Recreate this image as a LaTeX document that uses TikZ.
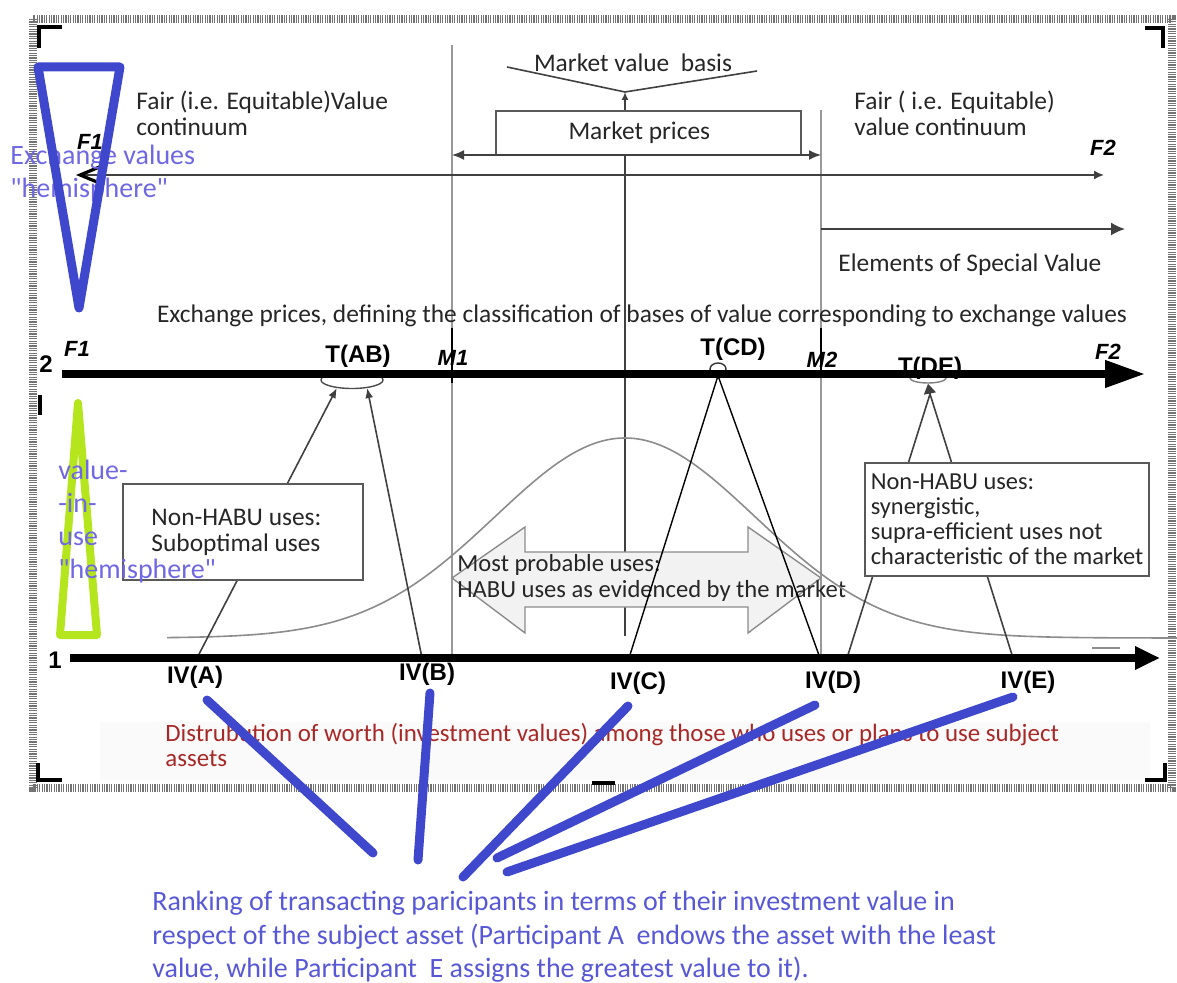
\documentclass[tikz,border=0pt]{standalone}
\usepackage{fontspec}
\setmainfont{Carlito}
\newfontfamily\hemifont{Carlito}[Ligatures=TeXOff]
\newfontfamily\arialfont{Liberation Sans}
\usetikzlibrary{arrows.meta,shapes.geometric}
\definecolor{penblue}{RGB}{63,72,204}
\definecolor{pengreen}{RGB}{181,230,29}
\definecolor{hemiviolet}{RGB}{112,104,226}
\definecolor{rankblue}{RGB}{88,88,214}
\definecolor{worthred}{RGB}{168,40,40}
\newcommand\txtsz{\fontsize{12.7}{13}\selectfont}
\newcommand\boxsz{\fontsize{12.2}{12.5}\selectfont}
\newcommand\hemisz{\hemifont\fontsize{14}{16.5}\selectfont}
\newcommand\ranksz{\fontsize{14}{16.75}\selectfont}
\newcommand\worthsz{\fontsize{12.45}{12.5}\selectfont}
\newcommand\ivsz{\arialfont\bfseries\fontsize{12}{13}\selectfont}
\newcommand\fsz{\arialfont\bfseries\itshape\fontsize{11}{12}\selectfont}
\begin{document}
\begin{tikzpicture}[x=0.5pt,y=-0.5pt,
  txt/.style={font=\txtsz,text=black!85,inner sep=0pt},
  ivlab/.style={font=\ivsz,inner sep=0pt},
  flab/.style={font=\fsz,inner sep=0pt},
  usebox/.style={draw=black!65,line width=0.8pt,fill=white,font=\txtsz,text=black!85,align=left,inner sep=0pt},
  hemi/.style={font=\hemisz,text=hemiviolet,align=left,inner sep=0pt,anchor=west},
  thinline/.style={black!75,line width=0.8pt},
  axis/.style={line width=3.6pt},
  mline/.style={black!40,line width=0.7pt},
  hatch/.style={draw=black!55,line width=4pt,dash pattern=on 0.6pt off 0.6pt},
  corner/.style={line width=1.6pt},
  pen/.style={penblue,line width=4.5pt,line cap=round,line join=round}]
\useasboundingbox (0,0) rectangle (1177,983);
% frame
\fill[black!2] (100,722) rectangle (1150,780);
\draw[hatch] (33,19) rectangle (1172,788);
\draw[corner] (39,48) -- (39,27) -- (62,27);
\draw[corner] (1145,28) -- (1163,28) -- (1163,48);
\draw[corner] (38,763) -- (38,780) -- (62,780);
\draw[corner] (1145,780) -- (1165,780) -- (1165,763);
\draw[corner] (592,783) -- (615,783);
\draw[corner] (40,395) -- (40,415);
% market boundaries
\draw[mline] (452,45) -- (452,658);
\draw[mline] (821,110) -- (821,658);
\draw[line width=0.8pt] (452,328) -- (452,383) (821,328) -- (821,378);
\draw[black!75,line width=1pt] (625,154) -- (625,636);
% fair value continuum
\node[txt,anchor=west,align=left] (fairleft) at (136,113) {Fair (i.e. Equitable)Value\\continuum};
\node[txt,anchor=west,align=left] (fairright) at (854,113) {Fair ( i.e. Equitable)\\value continuum};
\node[txt] (mvbasis) at (633,63) {Market value\ \ basis};
\coordinate (vleft) at (507,67);
\coordinate (vright) at (757,71);
\coordinate (vtip) at (625,92);
\draw[thinline] (vleft) -- (vtip) -- (vright);
\node[usebox,minimum width=152.5pt,minimum height=22pt,anchor=north west] (mprices) at (495,110) {Market prices\hspace*{9pt}};
\draw[thinline,-{Latex[length=4pt,width=3.5pt]}] (mprices.north -| vtip) -- (vtip);
\coordinate (mpl) at (452,155);
\coordinate (mpr) at (821,155);
\draw[thinline,{Latex[length=6pt,width=5pt]}-{Latex[length=6pt,width=5pt]}] (mpl) -- (mpr);
\coordinate (f1end) at (76,175);
\coordinate (f2end) at (1104,175);
\draw[thinline,{Straight Barb[length=12pt,width=10pt,line width=1.6pt,color=black]}-{Latex[length=5pt,width=4.5pt]}] (f1end) -- (f2end);
\node[flab] (f1top) at (90,142) {F1};
\node[flab] (f2top) at (1103,148) {F2};
\coordinate (spstart) at (821,229);
\coordinate (spend) at (1125,229);
\draw[thinline,-{Latex[length=7pt,width=6.5pt]}] (spstart) -- (spend);
\node[txt,anchor=west] (special) at (838,265) {Elements of Special Value};
\node[txt] (exprices) at (642,316) {Exchange prices, defining the classification of bases of value corresponding to exchange values};
% most probable uses
\draw[fill=black!5,draw=black!45,line width=0.7pt] (452,578) -- (525,527) -- (525,552) -- (748,552) -- (748,527) -- (821,578)
  -- (748,633) -- (748,607) -- (525,607) -- (525,633) -- cycle;
\node[txt,anchor=west,align=left,font=\fontsize{12.3}{13}\selectfont] (habu) at (457,578) {Most probable uses:\\HABU uses as evidenced by the market};
\draw[black!45,line width=0.8pt] plot[domain=167:1177,samples=120,smooth] (\x,{638-200*exp(-((\x-625)/130)*((\x-625)/130)/2)});
\draw[black!45,line width=1pt] (1092,648) -- (1120,648);
% transactions
\node[draw=black!70,ellipse,line width=0.7pt,minimum width=31pt,minimum height=8.5pt,inner sep=0pt] (tab) at (352,380) {};
\node[draw=black!80,ellipse,line width=0.7pt,minimum width=8pt,minimum height=6pt,inner sep=0pt] (tcd) at (718,369) {};
\node[draw=black!50,ellipse,line width=0.7pt,minimum width=18pt,minimum height=5pt,inner sep=0pt] (tde) at (928,378) {};
\coordinate (pa) at (197,658);
\coordinate (pb) at (422,658);
\coordinate (pc) at (629,658);
\coordinate (pd) at (820,658);
\coordinate (pdd) at (847,658);
\coordinate (pe) at (1013,658);
\coordinate (deapex) at (930,394);
\draw[thinline,-{Latex[length=5pt,width=4pt]}] (pa) -- (tab.208);
\draw[thinline,-{Latex[length=5pt,width=4pt]}] (pb) -- (tab.332);
\draw[line width=0.7pt] (pc) -- (tcd.south) -- (pd);
\draw[thinline] (pdd) -- (deapex) -- (pe);
\draw[thinline,-{Triangle[length=5pt,width=6pt]}] (deapex) -- (tde.south);
\node[usebox,minimum width=120pt,minimum height=48pt] (subopt) at (243,532) {Non-HABU uses:\\Suboptimal uses\hspace*{7pt}};
\node[usebox,minimum width=142pt,minimum height=56.5pt,font=\boxsz] (synerg) at (1007,519.5)
  {Non-HABU uses:\\synergistic,\\supra-efficient uses not\\characteristic of the market};
% labels on the two axes
\node[ivlab] (tablab) at (358,356) {T(AB)};
\node[ivlab] (tcdlab) at (733,349) {T(CD)};
\node[ivlab] (tdelab) at (930,368) {T(DE)};
\node[flab] (m1) at (453,358) {M1};
\node[flab] (m2) at (822,360) {M2};
\node[flab] (f1low) at (77,349) {F1};
\node[flab] (f2low) at (1108,352) {F2};
\node[ivlab] (two) at (46,364) {2};
\node[ivlab] (one) at (55,660) {1};
\draw[axis,-{Triangle[length=20pt,width=13pt]}] (62,374) -- (1145,374);
\draw[axis,-{Triangle[length=12.5pt,width=11pt]}] (70,658) -- (1160,658);
\node[ivlab] (iva) at (195,677) {IV(A)};
\node[ivlab] (ivb) at (427,674) {IV(B)};
\node[ivlab] (ivc) at (638,683) {IV(C)};
\node[ivlab] (ivd) at (833,682) {IV(D)};
\node[ivlab] (ive) at (1028,682) {IV(E)};
\node[font=\worthsz,text=worthred,align=left,inner sep=0pt,anchor=west] (worth) at (165,745)
  {Distrubution of worth (investment values) among those who uses or plans to use subject\\assets};
% hemispheres
\node[hemi] (exhemi) at (10,174) {Exchange values\\"hemisphere"};
\draw[pen] (38,67) -- (120,67) -- (79,308) -- cycle;
\draw[pengreen,line width=4pt,line join=round] (78,403) -- (97,635) -- (60,635) -- cycle;
\node[hemi] (usehemi) at (58,522) {value-\\-in-\\use\\"hemisphere"};
% ranking
\node[font=\ranksz,text=rankblue,align=left,inner sep=0pt,anchor=west] (ranking) at (152,937)
  {Ranking of transacting paricipants in terms of their investment value in\\respect of the subject asset (Participant A\ \ endows the asset with the least\\value, while Participant\ \ E assigns the greatest value to it).};
\foreach \tx/\ty/\bx/\by in {207/700/373/853,430/693/418/860,628/706/463/877,815/705/497/858,1013/697/507/872}
  \draw[pen] (\tx,\ty) -- (\bx,\by);
\end{tikzpicture}
\end{document}
